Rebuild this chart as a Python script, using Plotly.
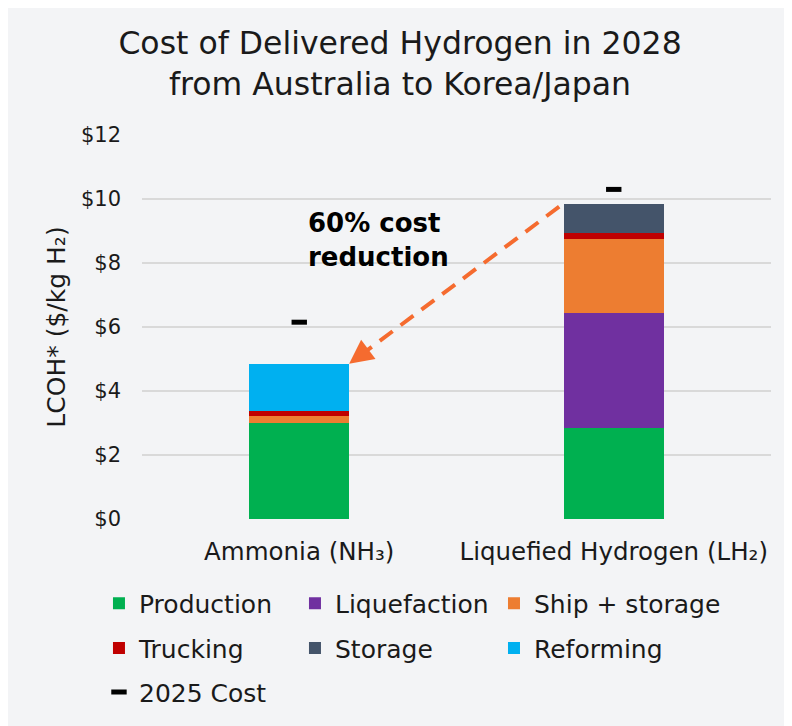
import plotly.graph_objects as go

categories = ["Ammonia (NH₃)", "Liquefied Hydrogen (LH₂)"]
production = [3.00, 2.85]
liquefaction = [0.0, 3.59]
ship_storage = [0.22, 2.31]
trucking = [0.15, 0.18]
storage = [0.0, 0.91]
reforming = [1.48, 0.0]
cost_2025 = [6.15, 10.30]

series = [
    ("Production", production, "#00B050"),
    ("Liquefaction", liquefaction, "#7030A0"),
    ("Ship + storage", ship_storage, "#ED7D31"),
    ("Trucking", trucking, "#C00000"),
    ("Storage", storage, "#44546A"),
    ("Reforming", reforming, "#00B0F0"),
]

FONT = "DejaVu Sans"
TXT = "#1a1a1a"
BG = "#F3F4F6"
BAR_W = 0.317
xs = [0, 1]

# legend grid: 3 columns x rows (fig-pixel positions)
COL_X = [-0.0684, 0.2432, 0.5596]
ROW_Y_PX = [596, 641, 685]

fig = go.Figure()
for i, (name, vals, col) in enumerate(series):
    fig.add_trace(go.Bar(
        x=xs, y=vals, name=name, marker_color=col, width=BAR_W,
        marker_line_width=0, legend="legend" if i == 0 else f"legend{i + 1}",
    ))

fig.add_trace(go.Scatter(
    x=xs, y=cost_2025, mode="markers", name="2025 Cost", legend="legend7",
    marker=dict(symbol="line-ew", size=11, color="black",
                line=dict(color="black", width=5)),
))

totals = [sum(s[1][i] for s in series) for i in range(2)]

# dashed arrow from LH2 total to Ammonia total
x0 = 1 - BAR_W / 2 - 0.015
y0 = totals[1] - 0.08
x1 = 0 + BAR_W / 2
y1 = totals[0]
fig.add_shape(type="line", xref="x", yref="y", x0=x0, y0=y0,
              x1=x1 + (x0 - x1) * 0.06, y1=y1 + (y0 - y1) * 0.06,
              line=dict(color="#F56B2F", width=4, dash="16px,10px"))
fig.add_annotation(x=x1, y=y1, ax=x1 + (x0 - x1) * 0.07, ay=y1 + (y0 - y1) * 0.07,
                   xref="x", yref="y", axref="x", ayref="y", text="",
                   showarrow=True, arrowhead=2, arrowsize=1.2, arrowwidth=4,
                   arrowcolor="#F56B2F")

fig.add_annotation(x=0.02, y=8.72, xref="x", yref="y", xanchor="left", yanchor="middle",
                   align="left", showarrow=False,
                   text="<b>60% cost<br>reduction</b>",
                   font=dict(family=FONT, size=26, color="black"))

PLOT_TOP, PLOT_BOT = 127, 511.5
PLOT_H = PLOT_BOT - PLOT_TOP


def row_y(fig_y):
    return (PLOT_BOT - fig_y) / PLOT_H


legends = {}
for k in range(7):
    key = "legend" if k == 0 else f"legend{k + 1}"
    legends[key] = dict(orientation="h", x=COL_X[k % 3], xanchor="left",
                        y=row_y(ROW_Y_PX[k // 3]), yanchor="middle",
                        font=dict(size=25, family=FONT, color=TXT),
                        bgcolor="rgba(0,0,0,0)")

fig.update_layout(
    width=792, height=726,
    paper_bgcolor=BG, plot_bgcolor=BG,
    barmode="stack",
    margin=dict(l=134, r=29, t=PLOT_TOP, b=726 - PLOT_BOT, autoexpand=False),
    font=dict(family=FONT, color=TXT),
    title=dict(text="Cost of Delivered Hydrogen in 2028<br>from Australia to Korea/Japan",
               x=0.495, xanchor="center", y=0.9366, yanchor="top",
               font=dict(family=FONT, size=31.5, color=TXT)),
    showlegend=True,
    **legends,
)
fig.update_xaxes(tickvals=xs, ticktext=categories, range=[-0.5, 1.5],
                 showgrid=False, zeroline=False, showline=False,
                 tickfont=dict(size=24.5, family=FONT, color=TXT),
                 ticklabelstandoff=15)
fig.update_yaxes(range=[0, 12], dtick=2, tickprefix="$", showgrid=True,
                 gridcolor="#D9D9D9", gridwidth=2, zeroline=False,
                 tickfont=dict(size=21, family=FONT, color=TXT),
                 ticklabelstandoff=20,
                 title=dict(text="LCOH* ($/kg H₂)", standoff=8,
                            font=dict(size=25, family=FONT, color=TXT)))

fig.write_html("out.html")
